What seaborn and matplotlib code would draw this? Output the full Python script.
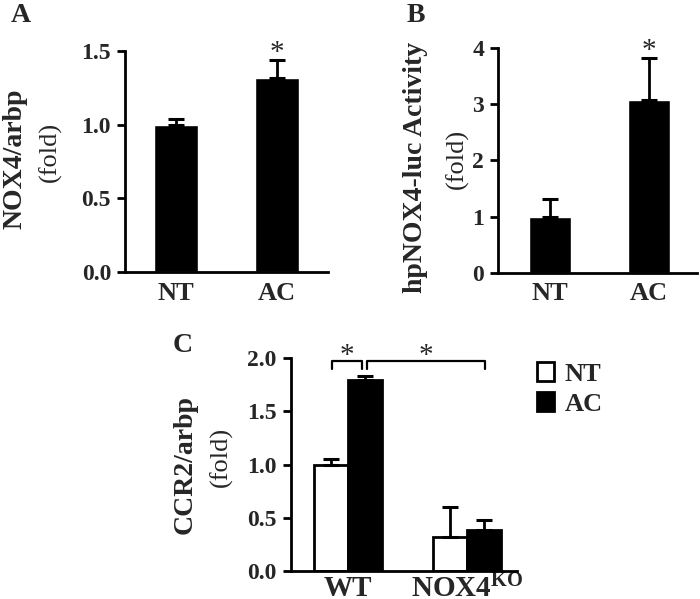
import matplotlib
matplotlib.use("Agg")
import matplotlib.pyplot as plt
from matplotlib.container import BarContainer
import pandas as pd
import seaborn as sns

# Panel A: NOX4/arbp
a_groups = ["NT", "AC"]
a_values = [1.0, 1.32]
a_errors = [0.04, 0.12]

# Panel B: hpNOX4-luc activity
b_groups = ["NT", "AC"]
b_values = [1.0, 3.08]
b_errors = [0.31, 0.75]

# Panel C: CCR2/arbp
c_genotypes = ["WT", "WT", "NOX4KO", "NOX4KO"]
c_treatment = ["NT", "AC", "NT", "AC"]
c_values = [1.0, 1.80, 0.32, 0.38]
c_errors = [0.05, 0.03, 0.28, 0.10]
c_xticklabels = ["WT", r"$\mathbf{NOX4^{KO}}$"]

# significance brackets in panel C: (x start, x end, y)
c_brackets = [(-0.134, 0.118, 1.97), (0.16, 1.15, 1.97)]

sns.set_theme(style="ticks")
plt.rcParams["font.family"] = ["Liberation Serif", "DejaVu Serif"]
plt.rcParams["mathtext.fontset"] = "custom"
plt.rcParams["mathtext.rm"] = "Liberation Serif"
plt.rcParams["mathtext.bf"] = "Liberation Serif:bold"

W, H = 700, 599
fig = plt.figure(figsize=(W / 100, H / 100), dpi=100)


def px_axes(left, right, top, bottom):
    return fig.add_axes([left / W, 1 - bottom / H, (right - left) / W, (bottom - top) / H])


def style_axes(ax, ylim, yticks, yfmt, xsize=19, xpad=7):
    ax.set_ylim(*ylim)
    ax.set_yticks(yticks)
    ax.set_yticklabels([yfmt.format(t) for t in yticks], fontsize=17, fontweight="bold")
    ax.tick_params(axis="y", length=6, width=2, pad=4, color="black")
    ax.tick_params(axis="x", length=0, pad=xpad)
    for lab in ax.get_xticklabels():
        lab.set_fontsize(xsize)
        lab.set_fontweight("bold")
    for s in ["top", "right"]:
        ax.spines[s].set_visible(False)
    for s in ["left", "bottom"]:
        ax.spines[s].set_linewidth(2)
        ax.spines[s].set_color("black")
    ax.set_xlabel("")
    ax.set_ylabel("")


def add_errors(ax, errors):
    bars = [b for c in ax.containers if isinstance(c, BarContainer) for b in c]
    for bar, err in zip(bars, errors):
        x = bar.get_x() + bar.get_width() / 2
        y = bar.get_height()
        ax.errorbar(x, y, yerr=[[0], [err]], fmt="none", ecolor="black",
                    elinewidth=2, capsize=5.5, capthick=2.2, zorder=1)


def ylabel(x, y, bold_text):
    fig.text(x / W, 1 - y / H, bold_text, rotation=90, ha="center", va="center",
             fontsize=20, fontweight="bold")


def fold(x, y):
    fig.text(x / W, 1 - y / H, "(fold)", rotation=90, ha="center", va="center",
             fontsize=19)


# ---- Panel A
axA = px_axes(125, 328, 51, 272)
dfA = pd.DataFrame({"group": a_groups, "value": a_values})
sns.barplot(data=dfA, x="group", y="value", color="black", width=0.43,
            errorbar=None, ax=axA, saturation=1)
add_errors(axA, a_errors)
axA.set_xlim(-0.5, 1.5)
style_axes(axA, (0, 1.5), [0.0, 0.5, 1.0, 1.5], "{:.1f}")
axA.text(1, a_values[1] + a_errors[1] - 0.04, "*", ha="center", va="bottom", fontsize=21)
fig.text(21 / W, 1 - 16 / H, "A", ha="center", va="center", fontsize=20, fontweight="bold")
ylabel(15, 159, "NOX4/arbp")
fold(50, 152)

# ---- Panel B
axB = px_axes(498, 697, 48, 272.7)
dfB = pd.DataFrame({"group": b_groups, "value": b_values})
sns.barplot(data=dfB, x="group", y="value", color="black", width=0.43,
            errorbar=None, ax=axB, saturation=1)
add_errors(axB, b_errors)
axB.set_xlim(-0.525, 1.485)
style_axes(axB, (0, 4), [0, 1, 2, 3, 4], "{:d}")
axB.text(1, b_values[1] + b_errors[1] - 0.12, "*", ha="center", va="bottom", fontsize=21)
fig.text(416 / W, 1 - 16 / H, "B", ha="center", va="center", fontsize=20, fontweight="bold")
ylabel(416, 167, "hpNOX4-luc Activity")
fold(457, 159)

# ---- Panel C
axC = px_axes(290.7, 517, 358.3, 570.7)
dfC = pd.DataFrame({"genotype": c_genotypes, "treatment": c_treatment, "value": c_values})
sns.barplot(data=dfC, x="genotype", y="value", hue="treatment",
            palette={"NT": "white", "AC": "black"}, width=0.57, errorbar=None,
            edgecolor="black", linewidth=2, ax=axC, saturation=1, legend=True)
# errors ordered by hue container (NT bars, then AC bars)
c_err_by_hue = [c_errors[0], c_errors[2], c_errors[1], c_errors[3]]
add_errors(axC, c_err_by_hue)
axC.set_xlim(-0.48, 1.42)
axC.set_xticks([0, 1])
axC.set_xticklabels(c_xticklabels)
style_axes(axC, (0, 2.0), [0.0, 0.5, 1.0, 1.5, 2.0], "{:.1f}", xsize=21, xpad=3)
for x0, x1, yb in c_brackets:
    axC.plot([x0, x0, x1, x1], [yb - 0.07, yb, yb, yb - 0.07], color="black",
             lw=1.6, clip_on=False)
    axC.text((x0 + x1) / 2, yb - 0.07, "*", ha="center", va="bottom", fontsize=21)
fig.text(183 / W, 1 - 346 / H, "C", ha="center", va="center", fontsize=20, fontweight="bold")
ylabel(185, 464, "CCR2/arbp")
fold(221, 457)

handles, labels = axC.get_legend_handles_labels()
axC.get_legend().remove()
fig.legend(handles, labels, loc="upper left", bbox_to_anchor=(524 / W, 1 - 349 / H),
           frameon=False, prop={"weight": "bold", "size": 19}, handlelength=0.65,
           handleheight=0.7, handletextpad=0.4, labelspacing=0.25, borderpad=0)

fig.savefig("out.png", dpi=100)
